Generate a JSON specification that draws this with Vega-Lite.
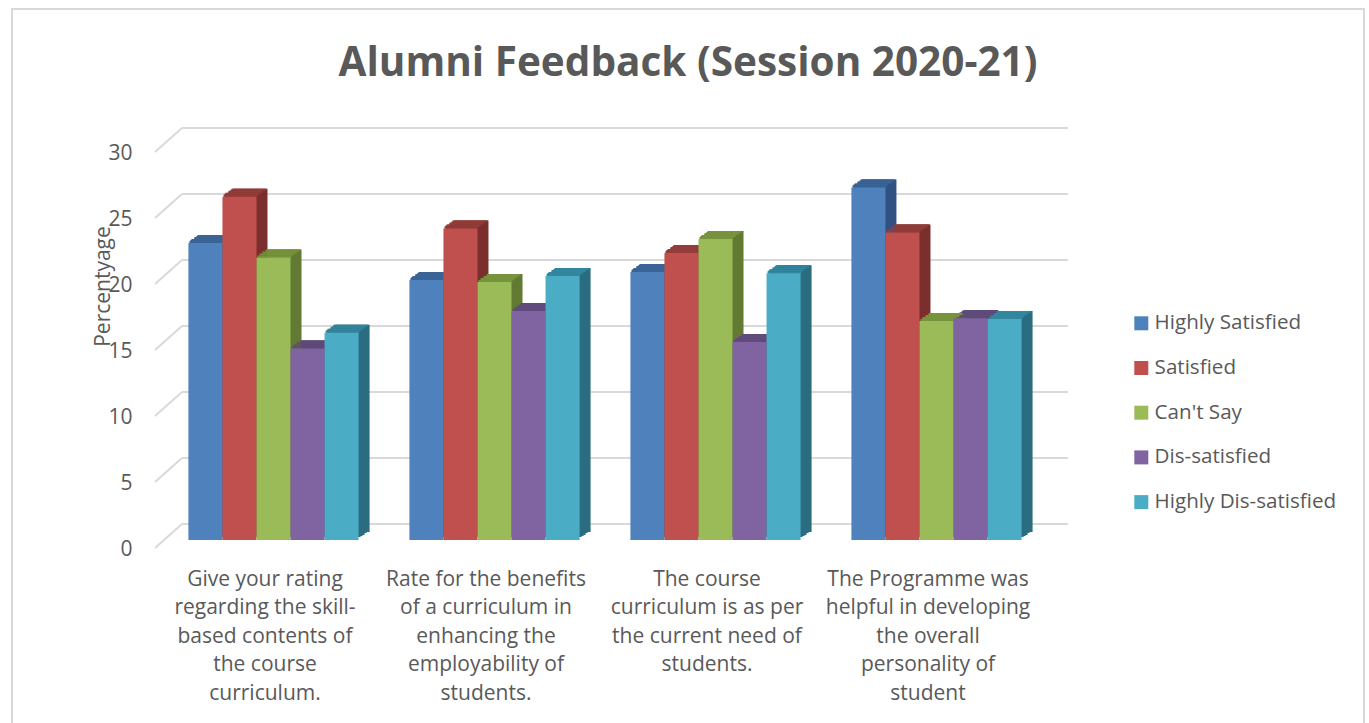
{
"$schema":"https://vega.github.io/schema/vega-lite/v6.json",
"width":1352,"height":730,
"autosize":{"type":"none"},
"padding":{"left":12,"top":9,"right":5,"bottom":0},
"background":"white",
"config":{"font":"Open Sans","view":{"stroke":"#d9d9d9","strokeWidth":2}},
"title":{"text":"Alumni Feedback (Session 2020-21)","font":"Open Sans","fontSize":40.5,"fontWeight":"bold","color":"#595959","anchor":"middle","frame":"group","dx":0,"offset":-116,"baseline":"bottom"},
"datasets":{
"bars":[
{"q":"Give your rating|regarding the skill-|based contents of|the course|curriculum.","s":"Highly Satisfied","v":22.5},
{"q":"Give your rating|regarding the skill-|based contents of|the course|curriculum.","s":"Satisfied","v":26},
{"q":"Give your rating|regarding the skill-|based contents of|the course|curriculum.","s":"Can't Say","v":21.4},
{"q":"Give your rating|regarding the skill-|based contents of|the course|curriculum.","s":"Dis-satisfied","v":14.5},
{"q":"Give your rating|regarding the skill-|based contents of|the course|curriculum.","s":"Highly Dis-satisfied","v":15.7},
{"q":"Rate for the benefits|of a curriculum in|enhancing the|employability of|students.","s":"Highly Satisfied","v":19.7},
{"q":"Rate for the benefits|of a curriculum in|enhancing the|employability of|students.","s":"Satisfied","v":23.6},
{"q":"Rate for the benefits|of a curriculum in|enhancing the|employability of|students.","s":"Can't Say","v":19.55},
{"q":"Rate for the benefits|of a curriculum in|enhancing the|employability of|students.","s":"Dis-satisfied","v":17.35},
{"q":"Rate for the benefits|of a curriculum in|enhancing the|employability of|students.","s":"Highly Dis-satisfied","v":20},
{"q":"The course|curriculum is as per|the current need of|students.","s":"Highly Satisfied","v":20.3},
{"q":"The course|curriculum is as per|the current need of|students.","s":"Satisfied","v":21.75},
{"q":"The course|curriculum is as per|the current need of|students.","s":"Can't Say","v":22.8},
{"q":"The course|curriculum is as per|the current need of|students.","s":"Dis-satisfied","v":15},
{"q":"The course|curriculum is as per|the current need of|students.","s":"Highly Dis-satisfied","v":20.2},
{"q":"The Programme was|helpful in developing\u2003\u2003\u2003|the overall|personality of|student","s":"Highly Satisfied","v":26.7},
{"q":"The Programme was|helpful in developing\u2003\u2003\u2003|the overall|personality of|student","s":"Satisfied","v":23.3},
{"q":"The Programme was|helpful in developing\u2003\u2003\u2003|the overall|personality of|student","s":"Can't Say","v":16.6},
{"q":"The Programme was|helpful in developing\u2003\u2003\u2003|the overall|personality of|student","s":"Dis-satisfied","v":16.8},
{"q":"The Programme was|helpful in developing\u2003\u2003\u2003|the overall|personality of|student","s":"Highly Dis-satisfied","v":16.75}
],
"grid":[{"p":0},{"p":5},{"p":10},{"p":15},{"p":20},{"p":25},{"p":30}]
},
"layer":[
{"data":{"name":"grid"},
 "mark":{"type":"rule","color":"#d9d9d9","strokeWidth":2,"yOffset":-16},
 "encoding":{
  "x":{"datum":0,"type":"quantitative","scale":{"domain":[0,1],"range":[170,1056]},"axis":null},
  "x2":{"datum":1},
  "y":{"field":"p","type":"quantitative","scale":{"domain":[0,30],"range":[531,135]},"axis":{"values":[0,5,10,15,20,25,30],"orient":"left","offset":-122,"domain":false,"ticks":false,"grid":false,"labelFontSize":21,"labelColor":"#595959","labelFont":"Open Sans","labelOffset":9,"labelPadding":2,"title":"Percentyage","titleFont":"Open Sans","titleFontSize":21,"titleFontWeight":"normal","titleColor":"#595959","titleX":-21,"titleY":277,"titleAngle":-90,"titleAnchor":"middle"}}
 }},
{"data":{"name":"grid"},
 "mark":{"type":"rule","color":"#d9d9d9","strokeWidth":2,"yOffset":8,"y2Offset":-16,"x2Offset":27},
 "encoding":{
  "x":{"datum":0,"type":"quantitative","scale":{"domain":[0,1],"range":[143,1056]},"axis":null},
  "x2":{"datum":0},
  "y":{"field":"p","type":"quantitative"},
  "y2":{"field":"p"}
 }},
{"data":{"name":"bars"},
 "layer":[
 {"mark":{"type":"bar","yOffset":-3,"y2Offset":-2},"encoding":{"x":{"field":"q","type":"nominal","sort":null,"scale":{"range":[153,1037],"paddingInner":0.23,"paddingOuter":0.115},"axis":null},"color":{"field":"s","type":"nominal","scale":{"domain":["Highly Satisfied","Satisfied","Can't Say","Dis-satisfied","Highly Dis-satisfied"],"range":["#2f5283","#7b2f2d","#637a33","#50406a","#2b6d80"]},"legend":null}}},
 {"mark":{"type":"bar","yOffset":-4,"y2Offset":-3},"encoding":{"x":{"field":"q","type":"nominal","sort":null,"scale":{"range":[155,1039],"paddingInner":0.23,"paddingOuter":0.115},"axis":null},"color":{"field":"s","type":"nominal","scale":{"domain":["Highly Satisfied","Satisfied","Can't Say","Dis-satisfied","Highly Dis-satisfied"],"range":["#2f5283","#7b2f2d","#637a33","#50406a","#2b6d80"]},"legend":null}}},
 {"mark":{"type":"bar","yOffset":-5,"y2Offset":-4},"encoding":{"x":{"field":"q","type":"nominal","sort":null,"scale":{"range":[157,1041],"paddingInner":0.23,"paddingOuter":0.115},"axis":null},"color":{"field":"s","type":"nominal","scale":{"domain":["Highly Satisfied","Satisfied","Can't Say","Dis-satisfied","Highly Dis-satisfied"],"range":["#2f5283","#7b2f2d","#637a33","#50406a","#2b6d80"]},"legend":null}}},
 {"mark":{"type":"bar","yOffset":-7,"y2Offset":-6},"encoding":{"x":{"field":"q","type":"nominal","sort":null,"scale":{"range":[159,1043],"paddingInner":0.23,"paddingOuter":0.115},"axis":null},"color":{"field":"s","type":"nominal","scale":{"domain":["Highly Satisfied","Satisfied","Can't Say","Dis-satisfied","Highly Dis-satisfied"],"range":["#2f5283","#7b2f2d","#637a33","#50406a","#2b6d80"]},"legend":null}}},
 {"mark":{"type":"bar","yOffset":-8,"y2Offset":-7},"encoding":{"x":{"field":"q","type":"nominal","sort":null,"scale":{"range":[161,1045],"paddingInner":0.23,"paddingOuter":0.115},"axis":null},"color":{"field":"s","type":"nominal","scale":{"domain":["Highly Satisfied","Satisfied","Can't Say","Dis-satisfied","Highly Dis-satisfied"],"range":["#2f5283","#7b2f2d","#637a33","#50406a","#2b6d80"]},"legend":null}}},
 {"mark":{"type":"bar","yOffset":-8,"y2Offset":-7},"encoding":{"x":{"field":"q","type":"nominal","sort":null,"scale":{"range":[162,1046],"paddingInner":0.23,"paddingOuter":0.115},"axis":null},"color":{"field":"s","type":"nominal","scale":{"domain":["Highly Satisfied","Satisfied","Can't Say","Dis-satisfied","Highly Dis-satisfied"],"range":["#2f5283","#7b2f2d","#637a33","#50406a","#2b6d80"]},"legend":null}}},
 {"mark":{"type":"bar","yOffset":-2,"y2Offset":0},"encoding":{"y2":{"field":"v"},"x":{"field":"q","type":"nominal","sort":null,"scale":{"range":[152,1036],"paddingInner":0.23,"paddingOuter":0.115},"axis":null},"color":{"field":"s","type":"nominal","scale":{"domain":["Highly Satisfied","Satisfied","Can't Say","Dis-satisfied","Highly Dis-satisfied"],"range":["#3b6496","#943c39","#77933c","#614b7c","#32869d"]},"legend":null}}},
 {"mark":{"type":"bar","yOffset":-4,"y2Offset":-2},"encoding":{"y2":{"field":"v"},"x":{"field":"q","type":"nominal","sort":null,"scale":{"range":[154,1038],"paddingInner":0.23,"paddingOuter":0.115},"axis":null},"color":{"field":"s","type":"nominal","scale":{"domain":["Highly Satisfied","Satisfied","Can't Say","Dis-satisfied","Highly Dis-satisfied"],"range":["#3b6496","#943c39","#77933c","#614b7c","#32869d"]},"legend":null}}},
 {"mark":{"type":"bar","yOffset":-6,"y2Offset":-4},"encoding":{"y2":{"field":"v"},"x":{"field":"q","type":"nominal","sort":null,"scale":{"range":[157,1041],"paddingInner":0.23,"paddingOuter":0.115},"axis":null},"color":{"field":"s","type":"nominal","scale":{"domain":["Highly Satisfied","Satisfied","Can't Say","Dis-satisfied","Highly Dis-satisfied"],"range":["#3b6496","#943c39","#77933c","#614b7c","#32869d"]},"legend":null}}},
 {"mark":{"type":"bar","yOffset":-8,"y2Offset":-6},"encoding":{"y2":{"field":"v"},"x":{"field":"q","type":"nominal","sort":null,"scale":{"range":[160,1044],"paddingInner":0.23,"paddingOuter":0.115},"axis":null},"color":{"field":"s","type":"nominal","scale":{"domain":["Highly Satisfied","Satisfied","Can't Say","Dis-satisfied","Highly Dis-satisfied"],"range":["#3b6496","#943c39","#77933c","#614b7c","#32869d"]},"legend":null}}},
 {"mark":{"type":"bar"},"encoding":{"x":{"field":"q","type":"nominal","sort":null,"scale":{"range":[151,1035],"paddingInner":0.23,"paddingOuter":0.115},"axis":{"orient":"bottom","offset":-199,"title":null,"domain":false,"ticks":false,"labelAngle":0,"labelFontSize":21,"labelFont":"Open Sans","labelColor":"#595959","labelLimit":0,"labelLineHeight":28.5,"labelPadding":28,"labelOffset":-8.5,"labelExpr":"split(datum.label,'|')"}},"color":{"field":"s","type":"nominal","scale":{"domain":["Highly Satisfied","Satisfied","Can't Say","Dis-satisfied","Highly Dis-satisfied"],"range":["#4f81bd","#c0504d","#9bbb59","#8064a2","#4bacc6"]},"legend":{"orient":"none","legendX":1119,"legendY":304,"title":null,"symbolType":"square","symbolSize":196,"symbolStrokeWidth":0,"labelFontSize":20.6,"labelFont":"Open Sans","labelColor":"#595959","rowPadding":23.7,"labelOffset":3,"labelLimit":260}}}}
 ],
 "encoding":{
  "xOffset":{"field":"s","type":"nominal","sort":["Highly Satisfied","Satisfied","Can't Say","Dis-satisfied","Highly Dis-satisfied"]},
  "y":{"field":"v","type":"quantitative"}
 },
 "resolve":{"scale":{"x":"independent","color":"independent"},"axis":{"x":"independent"}}
}
],
"resolve":{"scale":{"x":"independent"},"axis":{"x":"independent"}}
}
